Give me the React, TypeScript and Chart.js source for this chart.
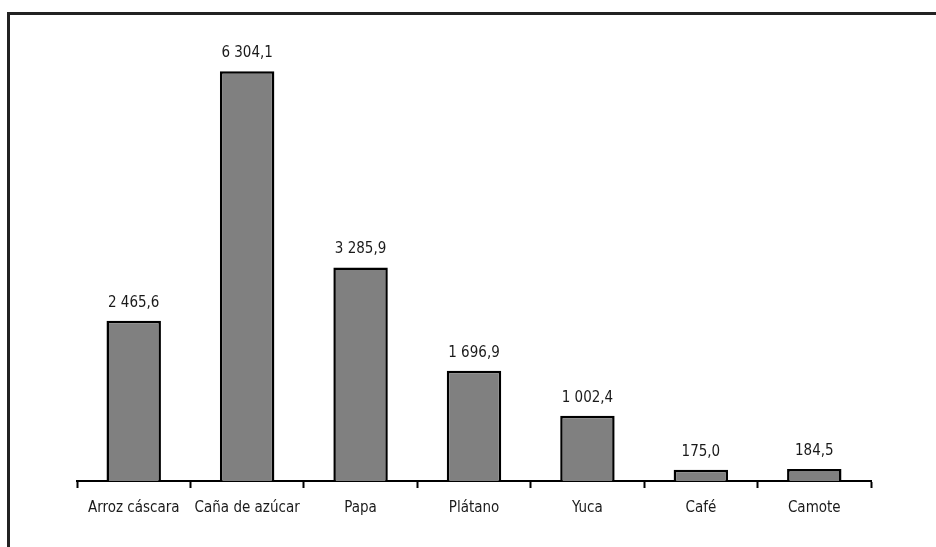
import React, { useEffect, useRef } from "react";
import { Chart, registerables } from "chart.js";

Chart.register(...registerables);

const categories = ["Arroz cáscara", "Caña de azúcar", "Papa", "Plátano", "Yuca", "Café", "Camote"];
const values = [2465.6, 6304.1, 3285.9, 1696.9, 1002.4, 175.0, 184.5];

const FONT = "'Liberation Sans Narrow', 'Arial Narrow', 'DejaVu Sans Condensed', sans-serif";

function fmt(v: number): string {
  const parts = v.toFixed(1).split(".");
  const intPart = parts[0].replace(/\B(?=(\d{3})+(?!\d))/g, " ");
  return intPart + "," + parts[1];
}

const framePlugin = {
  id: "frame",
  afterDraw(chart: any) {
    const ctx = chart.ctx;
    ctx.save();
    ctx.strokeStyle = "#222";
    ctx.lineWidth = 3;
    ctx.beginPath();
    ctx.moveTo(8.5, 547);
    ctx.lineTo(8.5, 13.5);
    ctx.lineTo(936, 13.5);
    ctx.stroke();
    ctx.restore();
  },
};

const labelPlugin = {
  id: "valueLabels",
  afterDatasetsDraw(chart: any) {
    const ctx = chart.ctx;
    const meta = chart.getDatasetMeta(0);
    ctx.save();
    ctx.font = "15px " + FONT;
    ctx.fillStyle = "#1a1a1a";
    ctx.textAlign = "center";
    ctx.textBaseline = "alphabetic";
    meta.data.forEach((bar: any, i: number) => {
      ctx.fillText(fmt(values[i]), bar.x, bar.y - 14);
    });
    ctx.restore();
  },
};

export default function App() {
  const ref = useRef<HTMLCanvasElement | null>(null);
  useEffect(() => {
    if (!ref.current) return;
    const chart = new Chart(ref.current, {
      type: "bar",
      data: {
        labels: categories,
        datasets: [
          {
            data: values,
            backgroundColor: "#808080",
            borderColor: "#000",
            borderWidth: 2.5,
            barPercentage: 0.96,
            categoryPercentage: 0.5,
          },
        ],
      },
      options: {
        animation: false,
        responsive: false,
        maintainAspectRatio: false,
        layout: { padding: { left: 77, right: 65, top: 26, bottom: 0 } },
        plugins: { legend: { display: false }, tooltip: { enabled: false } },
        scales: {
          x: {
            offset: true,
            grid: {
              display: true,
              drawOnChartArea: false,
              drawTicks: true,
              tickLength: 7,
              tickWidth: 2,
              tickColor: "#000",
              offset: true,
            },
            border: { display: true, color: "#000", width: 2 },
            ticks: {
              color: "#1a1a1a",
              font: { family: FONT, size: 15 },
              padding: 11,
              maxRotation: 0,
              autoSkip: false,
            },
            afterFit: (s: any) => {
              s.height = 66;
            },
          },
          y: {
            display: false,
            min: 0,
            max: 7000,
          },
        },
      },
      plugins: [framePlugin, labelPlugin],
    });
    return () => chart.destroy();
  }, []);
  return (
    <div style={{ position: "fixed", left: 0, top: 0, width: 936, height: 547, background: "#fff" }}>
      <canvas ref={ref} width={936} height={547} style={{ display: "block" }} />
    </div>
  );
}
